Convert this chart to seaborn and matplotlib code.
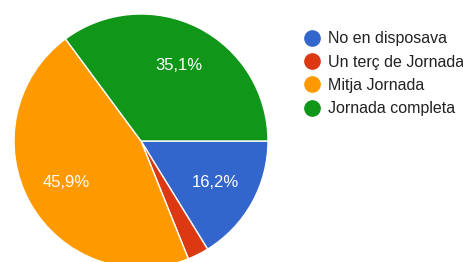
import matplotlib
matplotlib.use("Agg")
import matplotlib.pyplot as plt
from matplotlib.lines import Line2D
import seaborn as sns

# Data (counts out of 37 responses)
labels = ["No en disposava", "Un terç de Jornada", "Mitja Jornada", "Jornada completa"]
counts = [6, 1, 17, 13]
colors = ["#3366CC", "#DC3912", "#FF9900", "#109618"]

sns.set_theme(style="white")
plt.rcParams['font.family'] = ['Liberation Sans', 'DejaVu Sans']

W, H = 464, 262
fig = plt.figure(figsize=(W / 100, H / 100), dpi=100)
cx, cy, r = 141, 141, 127
ax = fig.add_axes([(cx - r) / W, (H - cy - r) / H, 2 * r / W, 2 * r / H])


def fmt(p):
    if p < 5:
        return ""
    return f"{p:.1f}%".replace(".", ",")


wedges, texts, autotexts = ax.pie(
    counts, colors=sns.color_palette(colors), startangle=0, counterclock=False,
    autopct=fmt, pctdistance=0.67, radius=1,
    wedgeprops=dict(edgecolor="white", linewidth=1),
    textprops=dict(color="white", fontsize=12),
)
ax.set_xlim(-1, 1)
ax.set_ylim(-1, 1)
ax.set_aspect("equal")
ax.axis("off")

handles = [Line2D([0], [0], marker="o", linestyle="", markersize=11,
                  markerfacecolor=c, markeredgecolor=c) for c in colors]
fig.legend(handles, labels, loc="upper left", bbox_to_anchor=(298 / W, 1 - 25 / H),
           frameon=False, fontsize=11.5, handlelength=1.0, handletextpad=0.45,
           labelspacing=0.52, borderaxespad=0, labelcolor="#222222")

fig.savefig("out.png", dpi=100)
